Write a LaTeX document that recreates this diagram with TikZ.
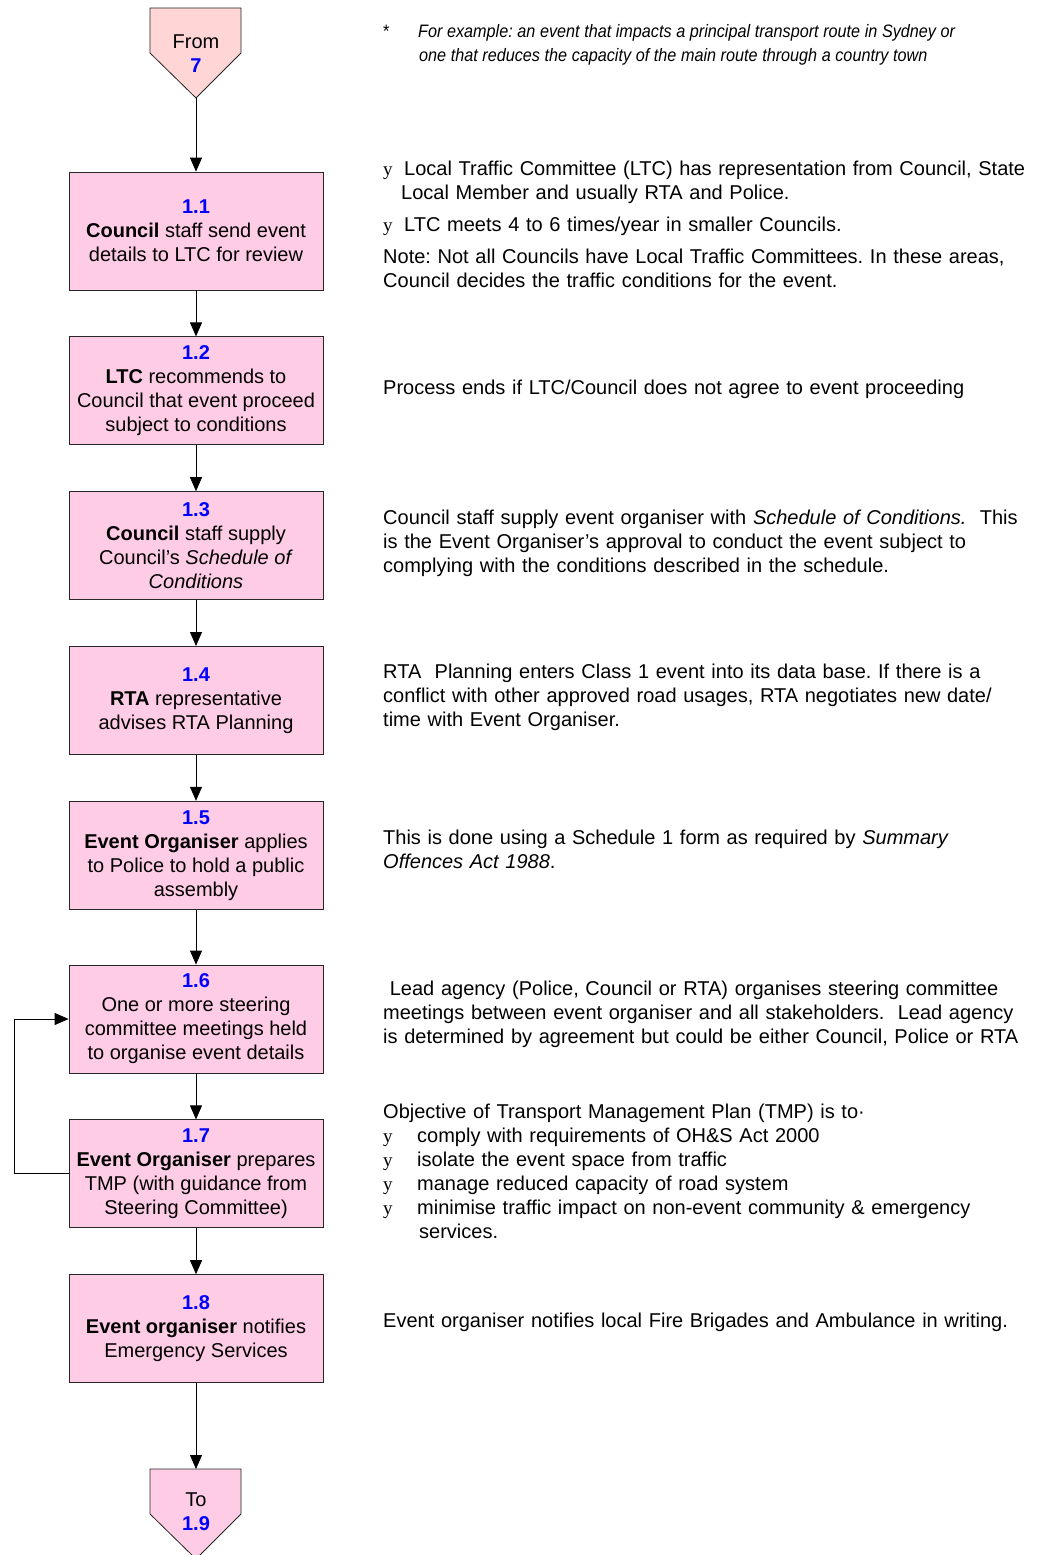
\documentclass[tikz,border=0pt]{standalone}
\usepackage{fontspec}
\setmainfont{Liberation Sans}
\newfontfamily\bulletfont{Liberation Serif}
\newfontfamily\notefont[FakeStretch=0.9]{Liberation Sans}
\usetikzlibrary{arrows.meta,positioning}
\definecolor{boxpink}{RGB}{255,204,229}
\definecolor{frompink}{RGB}{255,213,213}
\definecolor{numblue}{RGB}{0,0,255}
\newcommand\stepno[1]{{\color{numblue}\textbf{#1}}}
\newcommand\bul[1]{\makebox[#1][l]{\bulletfont\fontsize{19}{24}\selectfont y}}
\frenchspacing

\begin{document}
\begin{tikzpicture}[x=1pt,y=-1pt,
    font=\fontsize{20}{24}\selectfont,
    stepbox/.style={draw=black!85, line width=0.8pt, fill=boxpink, minimum width=254pt, minimum height=108pt, align=center, inner sep=4pt},
    tag/.style={draw=black!85, line width=0.8pt},
    note/.style={anchor=north west, inner sep=0pt, text width=700pt, align=left},
    arr/.style={line width=0.8pt, -{Triangle[length=14pt,width=12pt]}},
  ]
    \useasboundingbox (0,0) rectangle (1037,1555);

    % off-page connectors
    \draw[tag, fill=frompink] (150,8) -- (241,8) -- (241,53) -- (196,98) -- (150,53) -- cycle;
    \node[align=center] (from) at (196,54) {From\\\stepno{7}};
    \coordinate (fromtip) at (196,98);
    \draw[tag, fill=boxpink] (150,1469) -- (241,1469) -- (241,1514) -- (196,1559) -- (150,1514) -- cycle;
    \node[align=center] (to) at (196,1512) {To\\\stepno{1.9}};
    \coordinate (totop) at (196,1469);

    % steps
    \node[stepbox, minimum height=118pt] (b11) at (196,231) {\stepno{1.1}\\\textbf{Council} staff send event\\details to LTC for review};
    \node[stepbox, below=46pt of b11] (b12) {\stepno{1.2}\\\textbf{LTC} recommends to\\Council that event proceed\\subject to conditions};
    \node[stepbox, below=46pt of b12] (b13) {\stepno{1.3}\\\textbf{Council} staff supply\\Council's \textit{Schedule of}\\\textit{Conditions}};
    \node[stepbox, below=46pt of b13] (b14) {\stepno{1.4}\\\textbf{RTA} representative\\advises RTA Planning};
    \node[stepbox, below=46pt of b14] (b15) {\stepno{1.5}\\\textbf{Event Organiser} applies\\to Police to hold a public\\assembly};
    \node[stepbox, below=55pt of b15] (b16) {\stepno{1.6}\\One or more steering\\committee meetings held\\to organise event details};
    \node[stepbox, below=46pt of b16] (b17) {\stepno{1.7}\\\textbf{Event Organiser} prepares\\TMP (with guidance from\\Steering Committee)};
    \node[stepbox, below=46pt of b17] (b18) {\stepno{1.8}\\\textbf{Event organiser} notifies\\Emergency Services};

    \draw[arr] (fromtip) -- (b11);
    \foreach \a/\b in {b11/b12, b12/b13, b13/b14, b14/b15, b15/b16, b16/b17, b17/b18}
      \draw[arr] (\a) -- (\b);
    \draw[arr] (b18) -- (totop);
    \draw[arr] (b17.west) -- ++(-54,0) |- (b16.west);

    % notes on the right
    \node[note, font=\notefont\itshape\fontsize{18}{24}\selectfont] (n0) at (383,21) {\spaceskip=4.6pt\relax\strut\makebox[35pt][l]{\upshape *}For example: an event that impacts a principal transport route in Sydney or\\\hspace*{36pt}one that reduces the capacity of the main route through a country town};
    \node[note] (n11) at (383,158) {\strut\bul{21pt}Local Traffic Committee (LTC) has representation from Council, State\\\hspace*{18pt}Local Member and usually RTA and Police.\\[8pt]\bul{21pt}LTC meets 4 to 6 times/year in smaller Councils.\\[8pt]Note: Not all Councils have Local Traffic Committees. In these areas,\\Council decides the traffic conditions for the event.};
    \node[note] (n12) at (383,377) {\strut Process ends if LTC/Council does not agree to event proceeding};
    \node[note] (n13) at (383,507) {\strut Council staff supply event organiser with \textit{Schedule of Conditions.}\ \ This\\is the Event Organiser's approval to conduct the event subject to\\complying with the conditions described in the schedule.};
    \node[note] (n14) at (383,661) {\strut RTA\ \ Planning enters Class 1 event into its data base. If there is a\\conflict with other approved road usages, RTA negotiates new date/\\time with Event Organiser.};
    \node[note] (n15) at (383,827) {\strut This is done using a Schedule 1 form as required by \textit{Summary}\\\textit{Offences Act 1988}.};
    \node[note] (n16) at (383,978) {\strut\ Lead agency (Police, Council or RTA) organises steering committee\\meetings between event organiser and all stakeholders.\ \ Lead agency\\is determined by agreement but could be either Council, Police or RTA};
    \node[note] (n17) at (383,1101) {\strut Objective of Transport Management Plan (TMP) is to\textperiodcentered\\\bul{34pt}comply with requirements of OH\&S Act 2000\\\bul{34pt}isolate the event space from traffic\\\bul{34pt}manage reduced capacity of road system\\\bul{34pt}minimise traffic impact on non-event community \& emergency\\\hspace*{36pt}services.};
    \node[note] (n18) at (383,1310) {\strut Event organiser notifies local Fire Brigades and Ambulance in writing.};
  \end{tikzpicture}
\end{document}
